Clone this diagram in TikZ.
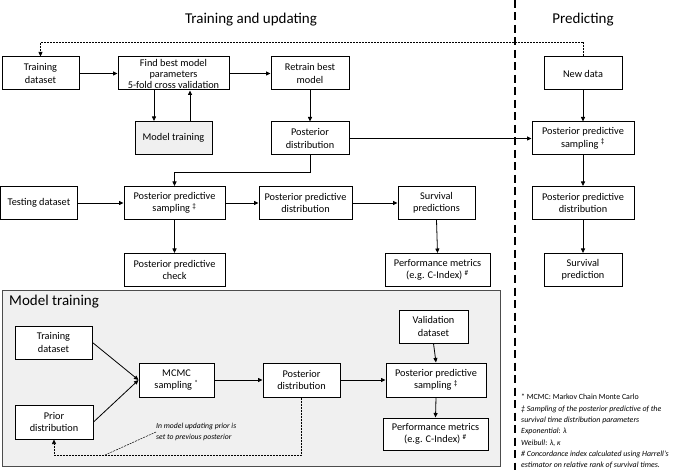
\documentclass[tikz,border=0pt]{standalone}
\usepackage{fontspec}
\setmainfont{Carlito}
\usetikzlibrary{arrows.meta}
\begin{document}
\begin{tikzpicture}[x=1pt,y=-1pt,
  bx/.style={draw=black, line width=1pt, fill=white, align=center, inner sep=1pt,
    font=\fontsize{10.3}{12.5}\selectfont, minimum height=33pt},
  arr/.style={line width=0.8pt, -{Triangle[length=4.5pt,width=4pt]}},
  fb/.style={line width=0.7pt, dash pattern=on 2pt off 1pt, -{Triangle[length=4.5pt,width=4pt]}},
  ttl/.style={font=\fontsize{15}{16}\selectfont, inner sep=0pt}]
\useasboundingbox (0,0) rectangle (685,470);
% titles
\node[ttl] (t1) at (251,20) {Training and updating};
\node[ttl] (t2) at (583,20) {Predicting};
% separator
\draw[line width=2pt, dash pattern=on 8pt off 4.5pt] (515,0) -- (515,470);

% model training frame
\draw[fill=black!6, draw=black!70, line width=0.9pt] (2,290) rectangle (500,466);
\node[ttl, anchor=west] (t3) at (9,302) {Model training};

% top area
\node[bx, minimum width=77pt] (tds) at (40.5,73.5) {Training\\dataset};
\node[bx, minimum width=111pt, inner sep=0pt, font=\fontsize{10.3}{11}\selectfont] (fbm) at (173.5,73.5) {Find best model\\parameters\\5-fold cross validation};
\node[bx, minimum width=78pt] (rbm) at (310,73.5) {Retrain best\\model};
\node[bx, minimum width=77pt, fill=black!6] (mt) at (173.5,138) {Model training};
\node[bx, minimum width=78pt] (pd) at (310,138.5) {Posterior\\distribution};
\node[bx, minimum width=78pt] (nd) at (583,73.5) {New data};
\node[bx, minimum width=102pt] (pps2) at (583,138.5) {Posterior predictive\\sampling \textsuperscript{‡}};
\node[bx, minimum width=77pt] (test) at (39,203) {Testing dataset};
\node[bx, minimum width=101pt] (pps1) at (174.5,203) {Posterior predictive\\sampling \textsuperscript{‡}};
\node[bx, minimum width=93pt] (ppd1) at (305.5,203) {Posterior predictive\\distribution};
\node[bx, minimum width=77pt] (sp) at (436.5,203) {Survival\\predictions};
\node[bx, minimum width=101pt] (ppc) at (174.5,270) {Posterior predictive\\check};
\node[bx, minimum width=105pt] (pm) at (437.5,270) {Performance metrics\\(e.g. C-Index) \textsuperscript{\#}};
\node[bx, minimum width=102pt] (ppd2) at (583,203) {Posterior predictive\\distribution};
\node[bx, minimum width=78pt] (spr) at (583,270) {Survival\\prediction};

% top connectors
\draw[fb] (nd.north) |- (tds.north |- 0,42) -- (tds.north);
\draw[arr] (tds.east) -- (fbm.west);
\draw[arr] (fbm.east) -- (rbm.west);
\draw[arr] ([xshift=-19.5pt]fbm.south) -- ([xshift=-19.5pt]mt.north);
\draw[arr] ([xshift=16.5pt]mt.north) -- ([xshift=16.5pt]fbm.south);
\draw[arr] (rbm.south) -- (pd.north);
\draw[arr] (pd.east) -- (pps2.west);
\draw[arr] (pd.south) -- ++(0,17) -| (pps1.north);
\draw[arr] (test.east) -- (pps1.west);
\draw[arr] (pps1.east) -- (ppd1.west);
\draw[arr] (ppd1.east) -- (sp.west);
\draw[arr] (pps1.south) -- (ppc.north);
\draw[arr] (sp.south) -- (pm.north);
\draw[arr] (nd.south) -- (pps2.north);
\draw[arr] (pps2.south) -- (ppd2.north);
\draw[arr] (ppd2.south) -- (spr.north);

% inner model training
\node[bx, minimum width=77pt] (itd) at (53.5,342.5) {Training\\dataset};
\node[bx, minimum width=78pt, minimum height=34pt] (prior) at (54,422) {Prior\\distribution};
\node[bx, minimum width=75pt, minimum height=34pt] (mcmc) at (176.5,380) {MCMC\\sampling \textsuperscript{*}};
\node[bx, minimum width=77pt, minimum height=34pt] (ipd) at (301.5,380) {Posterior\\distribution};
\node[bx, minimum width=69pt] (vd) at (433.5,326.5) {Validation\\dataset};
\node[bx, minimum width=100pt, minimum height=34pt] (ipps) at (436,380) {Posterior predictive\\sampling \textsuperscript{‡}};
\node[bx, minimum width=105pt, minimum height=32pt] (ipm) at (435.5,434) {Performance metrics\\(e.g. C-Index) \textsuperscript{\#}};

\draw[arr] (itd.east) -- (mcmc.west);
\draw[arr] (prior.east) -- (mcmc.west);
\draw[arr] (mcmc.east) -- (ipd.west);
\draw[arr] (ipd.east) -- (ipps.west);
\draw[arr] (vd.south) -- (ipps.north);
\draw[arr] (ipps.south) -- (ipm.north);
\draw[fb] (ipd.south) |- (prior.south |- 0,455) -- (prior.south);

\node[anchor=west, align=left, inner sep=0pt, font=\fontsize{7.7}{11}\selectfont\itshape] (ann) at (156,432) {In model updating prior is\\set to previous posterior};
\coordinate (annp) at (105,455);
\draw[line width=0.5pt, dash pattern=on 2pt off 1pt] (annp) -- (ann.west);

% footnotes
\node[anchor=north west, align=left, inner sep=0pt, font=\fontsize{7.9}{11.3}\selectfont] (fn) at (521,394) {* MCMC: Markov Chain Monte Carlo\\
\textit{‡ Sampling of the posterior predictive of the}\\
\textit{survival time distribution parameters}\\
\textit{Exponential}: \textit{λ}\\
\textit{Weibull}: \textit{λ, κ}\\
\textit{\# Concordance index calculated using Harrell's}\\
\textit{estimator on relative rank of survival times.}};
\end{tikzpicture}
\end{document}
